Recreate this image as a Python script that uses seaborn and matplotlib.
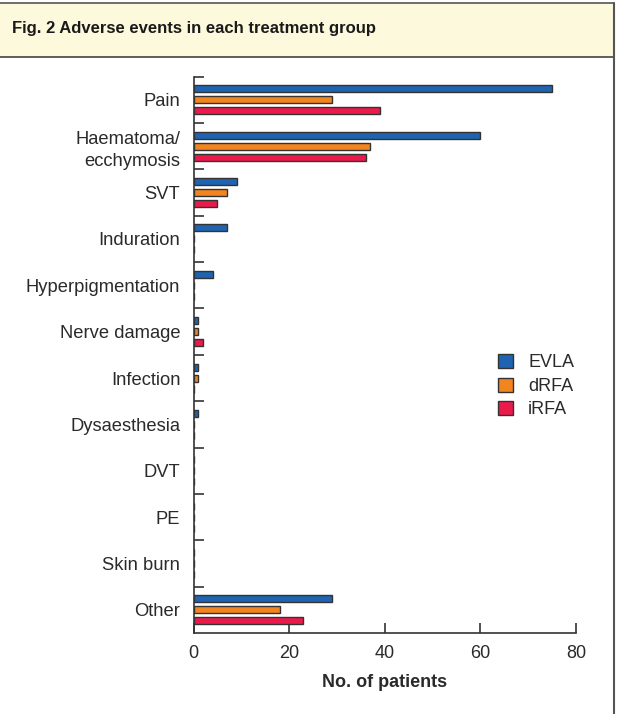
import matplotlib
matplotlib.use("Agg")
import matplotlib.pyplot as plt
import matplotlib.patches as mpatches
from matplotlib.lines import Line2D
import seaborn as sns
import pandas as pd

categories = ["Pain", "Haematoma/\necchymosis", "SVT", "Induration", "Hyperpigmentation",
              "Nerve damage", "Infection", "Dysaesthesia", "DVT", "PE", "Skin burn", "Other"]
groups = ["EVLA", "dRFA", "iRFA"]
evla = [75, 60, 9, 7, 4, 1, 1, 1, 0, 0, 0, 29]
drfa = [29, 37, 7, 0, 0, 1, 1, 0, 0, 0, 0, 18]
irfa = [39, 36, 5, 0, 0, 2, 0, 0, 0, 0, 0, 23]
x_ticks = [0, 20, 40, 60, 80]
colors = ["#1f64b1", "#f2851f", "#ea1a4b"]

rows = []
for g, vals in zip(groups, [evla, drfa, irfa]):
    for c, v in zip(categories, vals):
        rows.append({"category": c, "group": g, "value": v})
df = pd.DataFrame(rows)

sns.set_style("white")
plt.rcParams["font.family"] = ["Liberation Sans", "DejaVu Sans"]

W, H = 617, 714
fig = plt.figure(figsize=(W / 100, H / 100), dpi=100)
ax = fig.add_axes([193.5 / W, 1 - 633 / H, (576 - 193.5) / W, (633 - 76.7) / H])

sns.barplot(data=df, y="category", x="value", hue="group", order=categories,
            hue_order=groups, palette=colors, saturation=1, orient="h", width=0.71, gap=0.36,
            edgecolor="#333333", linewidth=1.0, ax=ax, legend=False)

ax.set_xlim(0, 80)
ax.set_ylim(11.5, -0.5)
ax.set_xticks(x_ticks)
ax.set_xticklabels([str(t) for t in x_ticks], fontsize=13, color="#2a2a2a")
ax.set_yticks(range(len(categories)))
ax.set_yticklabels(categories, fontsize=13.2, color="#2a2a2a", linespacing=1.4)
ax.set_yticks([i - 0.5 for i in range(len(categories))], minor=True)
ax.tick_params(axis="y", which="major", left=True, length=0, pad=9.5)
ax.tick_params(axis="y", which="minor", left=True, length=7.5, width=1.2, direction="in",
               color="#333333")
ax.tick_params(axis="x", which="major", bottom=True, length=7.5, width=1.2, direction="in",
               color="#333333", pad=9)
ax.set_ylabel("")
ax.set_xlabel("No. of patients", fontsize=13, fontweight="bold", color="#2a2a2a", labelpad=8)
for s in ["top", "right"]:
    ax.spines[s].set_visible(False)
for s in ["left", "bottom"]:
    ax.spines[s].set_color("#333333")
    ax.spines[s].set_linewidth(1.2)

handles = [mpatches.Patch(facecolor=c, edgecolor="#333333", linewidth=1.0, label=g)
           for c, g in zip(colors, groups)]
leg = fig.legend(handles=handles, loc="upper left", bbox_to_anchor=(482 / W, 1 - 338 / H),
                 frameon=False, fontsize=13, handlelength=0.8, handleheight=0.8,
                 handletextpad=0.85, labelspacing=0.35)
for t in leg.get_texts():
    t.set_color("#2a2a2a")

# header box
fig.patches.append(mpatches.Rectangle((0, 1 - 57 / H), 614 / W, 54 / H, transform=fig.transFigure,
                                      facecolor="#fdf9dc", edgecolor="none", zorder=0))
fig.lines.append(Line2D([0, 614 / W], [1 - 3 / H, 1 - 3 / H], transform=fig.transFigure,
                        color="#555555", linewidth=1.2))
fig.lines.append(Line2D([0, 614 / W], [1 - 57 / H, 1 - 57 / H], transform=fig.transFigure,
                        color="#444444", linewidth=1.2))
fig.lines.append(Line2D([614 / W, 614 / W], [0, 1 - 3 / H], transform=fig.transFigure,
                        color="#555555", linewidth=1.5))
fig.text(12 / W, 1 - 29 / H, "Fig. 2 Adverse events in each treatment group", fontsize=12,
         fontweight="bold", color="#1a1a1a", va="center", ha="left")

fig.savefig("out.png", dpi=100)
